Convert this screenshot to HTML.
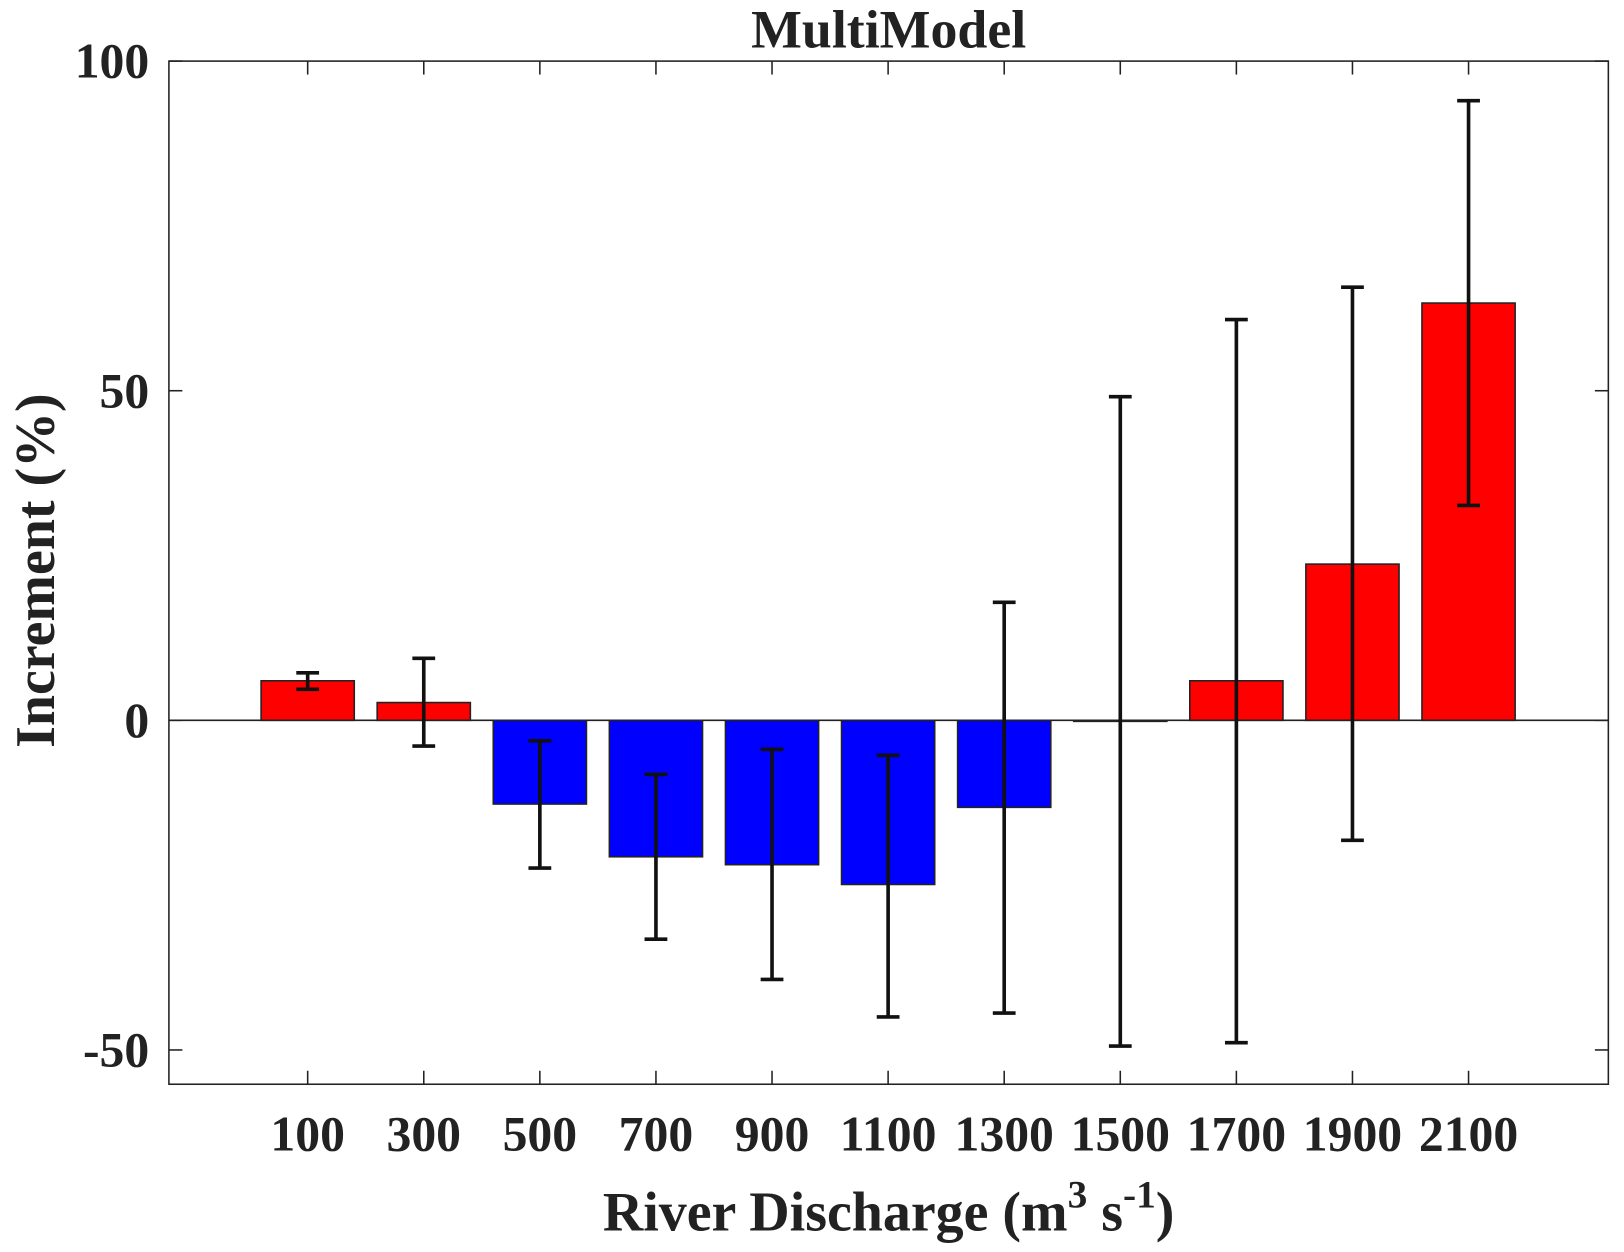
<!DOCTYPE html>
<html><head><meta charset="utf-8"><style>html,body{margin:0;padding:0;background:#fff}svg{display:block}text{font-family:"Liberation Serif",serif;font-weight:bold;fill:#222}</style></head>
<body>
<svg id="chart" width="1624" height="1252" viewBox="0 0 1568 1209" xmlns="http://www.w3.org/2000/svg">
<text x="858" y="46" font-size="52" text-anchor="middle">MultiModel</text>
<g id="plot"></g>
<text x="858" y="1188" font-size="54" text-anchor="middle">River Discharge (m<tspan dy="-22" font-size="38">3</tspan><tspan dy="22"> s</tspan><tspan dy="-22" font-size="38">-1</tspan><tspan dy="22">)</tspan></text>
<text transform="translate(52,551) rotate(-90)" font-size="54" text-anchor="middle">Increment (%)</text>
</svg>
<script>
const categories=["100","300","500","700","900","1100","1300","1500","1700","1900","2100"];
const values=[6.0,2.7,-12.7,-20.7,-21.9,-24.9,-13.2,0,6.0,23.7,63.3];
const errUpper=[7.2,9.4,-3.1,-8.2,-4.4,-5.3,17.9,49.1,60.8,65.7,94.0];
const errLower=[4.7,-3.9,-22.4,-33.2,-39.3,-45.0,-44.4,-49.4,-48.9,-18.2,32.6];
const yTicks=[-50,0,50,100];
const L=163,R=1553,T=59,B=1047,ymax=100,ymin=-55.2;
const y=v=>T+(ymax-v)/(ymax-ymin)*(B-T);
const x=i=>297+112.1*i;
const g=document.getElementById('plot');
const NS="http://www.w3.org/2000/svg";
function mk(t,a){const e=document.createElementNS(NS,t);for(const k in a)e.setAttribute(k,a[k]);g.appendChild(e);return e;}
values.forEach((v,i)=>{
 const r=mk('rect',{x:x(i)-45,y:Math.min(y(v),y(0)),width:90,height:Math.max(Math.abs(y(v)-y(0)),1),fill:v>=0?'#ff0000':'#0000ff',stroke:'#222','stroke-width':1.5});
 
 
});
mk('line',{x1:L,x2:R,y1:y(0),y2:y(0),stroke:'#222','stroke-width':1.5});
values.forEach((v,i)=>{
 const e=mk('path',{d:`M${x(i)},${y(errUpper[i])}V${y(errLower[i])}M${x(i)-11},${y(errUpper[i])}H${x(i)+11}M${x(i)-11},${y(errLower[i])}H${x(i)+11}`,stroke:'#111','stroke-width':3.5,fill:'none'});
 
 
});
const ax=mk('rect',{x:L,y:T,width:R-L,height:B-T,fill:'none',stroke:'#222','stroke-width':1.5});


categories.forEach((c,i)=>{
 mk('line',{x1:x(i),x2:x(i),y1:B,y2:B-13,stroke:'#222','stroke-width':1.5});
 mk('line',{x1:x(i),x2:x(i),y1:T,y2:T+13,stroke:'#222','stroke-width':1.5});
 const t=mk('text',{x:x(i),y:B+64,'font-size':48,'text-anchor':'middle'});t.textContent=c;
 
 
});
yTicks.forEach(v=>{
 mk('line',{x1:L,x2:L+13,y1:y(v),y2:y(v),stroke:'#222','stroke-width':1.5});
 mk('line',{x1:R,x2:R-13,y1:y(v),y2:y(v),stroke:'#222','stroke-width':1.5});
 const t=mk('text',{x:L-19,y:y(v)+16,'font-size':48,'text-anchor':'end'});t.textContent=v;
 
 
});
</script>
</body></html>
